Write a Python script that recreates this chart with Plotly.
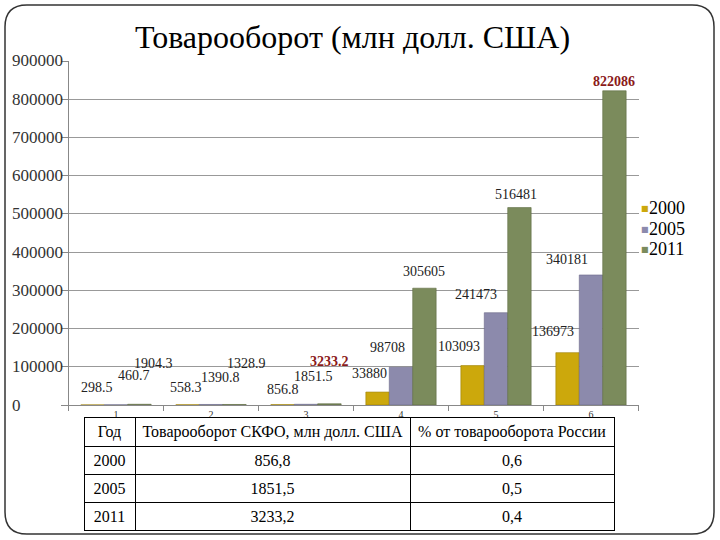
import plotly.graph_objects as go

# ---- data ----
categories = ["1", "2", "3", "4", "5", "6"]
series_names = ["2000", "2005", "2011"]
values_2000 = [298.5, 558.3, 856.8, 33880, 103093, 136973]
values_2005 = [460.7, 1390.8, 1851.5, 98708, 241473, 340181]
values_2011 = [1904.3, 1328.9, 3233.2, 305605, 516481, 822086]
label_2000 = ["298.5", "558.3", "856.8", "33880", "103093", "136973"]
label_2005 = ["460.7", "1390.8", "1851.5", "98708", "241473", "340181"]
label_2011 = ["1904.3", "1328.9", "3233.2", "305605", "516481", "822086"]
y_tickvals = [0, 100000, 200000, 300000, 400000, 500000, 600000, 700000, 800000, 900000]
y_ticktext = ["0", "100000", "200000", "300000", "400000", "500000", "600000", "700000", "800000", "900000"]
title_text = "Товарооборот (млн долл. США)"
table_header = ["Год", "Товарооборот СКФО, млн долл. США", "% от товарооборота России"]
table_years = ["2000", "2005", "2011"]
table_turnover = ["856,8", "1851,5", "3233,2"]
table_share = ["0,6", "0,5", "0,4"]

# ---- styles ----
W, H = 720, 540
colors = ["#CCA80C", "#8C8AAC", "#7B8B5C"]
edge = ["#9a7e00", "#6a6888", "#5c6a40"]
serif = "Liberation Serif"
bargap = 0.26
# pixel offsets of labels relative to bar top centre (dx, dy upward)
label_offsets = [
    [(4, 17), (-2, 17), (0, 15), (-8, 19), (-14, 19), (-15, 21)],
    [(18, 29), (9, 27), (7, 28), (-14, 20), (-20, 18), (-24, 15)],
    [(14, 41), (12, 41), (0, 42), (0, 17), (-3, 13), (0, 9)],
]
red_labels = {(2, 2), (2, 5)}
legend_rows_px = [208, 229, 249]

all_vals = [values_2000, values_2005, values_2011]
all_labels = [label_2000, label_2005, label_2011]

fig = go.Figure()
for i, name in enumerate(series_names):
    fig.add_trace(go.Bar(
        x=categories, y=all_vals[i], name=name, showlegend=False,
        marker=dict(color=colors[i], line=dict(color=edge[i], width=0.6)),
    ))

annotations = []
bw = (1 - bargap) / 3
for i in range(3):
    for k in range(len(categories)):
        dx, dy = label_offsets[i][k]
        red = (i, k) in red_labels
        annotations.append(dict(
            x=k + (i - 1) * bw, y=all_vals[i][k], xref="x", yref="y",
            text=("<b>%s</b>" % all_labels[i][k]) if red else all_labels[i][k],
            showarrow=False, xshift=dx, yshift=dy,
            font=dict(family=serif, size=14, color="#8B1A1A" if red else "#222222"),
        ))

# y tick labels (left aligned)
for v, t in zip(y_tickvals, y_ticktext):
    annotations.append(dict(
        x=10 / W, y=v, xref="paper", yref="y", text=t, showarrow=False,
        xanchor="left", yanchor="middle", font=dict(family=serif, size=17, color="#333333"),
    ))

# legend (manual)
for i, name in enumerate(series_names):
    yy = 1 - legend_rows_px[i] / H
    annotations.append(dict(x=639 / W, y=yy, xref="paper", yref="paper", text="■",
                            showarrow=False, xanchor="left", yanchor="middle",
                            font=dict(family="DejaVu Sans", size=8, color=colors[i])))
    annotations.append(dict(x=647 / W, y=yy, xref="paper", yref="paper", text=name,
                            showarrow=False, xanchor="left", yanchor="middle",
                            font=dict(family=serif, size=18, color="black")))

annotations.append(dict(
    x=352 / W, y=1 - 37 / H, xref="paper", yref="paper", text=title_text,
    showarrow=False, xanchor="center", yanchor="middle",
    font=dict(family=serif, size=32, color="black"),
))

nb = lambda s: s.replace(" ", "\u00a0")
fig.add_trace(go.Table(
    domain=dict(x=[84 / W, 614 / W], y=[1 - 532 / H, 1 - 417 / H]),
    columnwidth=[51, 275, 204],
    header=dict(values=[nb(s) for s in table_header], height=29, align="center",
                line=dict(color="black", width=1), fill=dict(color="white"),
                font=dict(family=serif, size=16, color="black")),
    cells=dict(values=[table_years, table_turnover, table_share], height=28, align="center",
               line=dict(color="black", width=1), fill=dict(color="white"),
               font=dict(family=serif, size=16, color="black")),
))

# rounded frame
x0, x1 = 5 / W, 714 / W
y0, y1 = 1 - 534 / H, 1 - 5 / H
rx, ry = 22 / W, 22 / H
path = (f"M {x0+rx},{y1} L {x1-rx},{y1} Q {x1},{y1} {x1},{y1-ry} "
        f"L {x1},{y0+ry} Q {x1},{y0} {x1-rx},{y0} L {x0+rx},{y0} "
        f"Q {x0},{y0} {x0},{y0+ry} L {x0},{y1-ry} Q {x0},{y1} {x0+rx},{y1} Z")

fig.update_layout(
    width=W, height=H,
    margin=dict(l=0, r=0, t=0, b=0),
    paper_bgcolor="white", plot_bgcolor="white",
    barmode="group", bargap=bargap, bargroupgap=0,
    showlegend=False,
    annotations=annotations,
    shapes=[dict(type="path", xref="paper", yref="paper", path=path,
                 line=dict(color="#333333", width=1.5), layer="above")],
    xaxis=dict(domain=[68.5 / W, 638.5 / W], type="category",
               showline=True, linecolor="#888888", linewidth=1,
               ticks="outside", tickson="boundaries", ticklen=5, tickcolor="#888888",
               tickfont=dict(family=serif, size=10, color="#333333"),
               showgrid=False, automargin=False),
    yaxis=dict(domain=[1 - 405 / H, 1 - 61 / H], range=[0, 900000],
               tickvals=y_tickvals, showticklabels=False,
               showline=True, linecolor="#888888", linewidth=1,
               ticks="outside", ticklen=7, tickcolor="#888888",
               showgrid=True, gridcolor="#999999", gridwidth=1,
               zeroline=False, automargin=False),
)

fig.write_html("out.html")
